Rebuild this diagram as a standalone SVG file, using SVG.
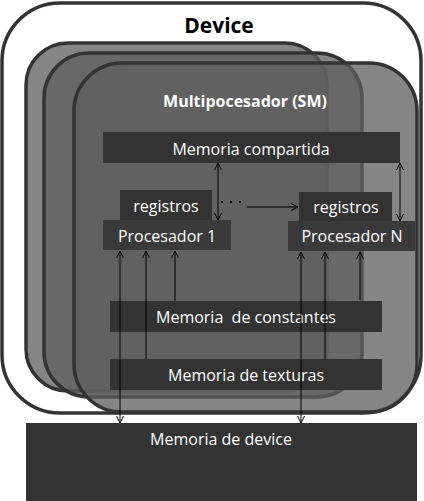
<svg xmlns="http://www.w3.org/2000/svg" width="424" height="501" viewBox="0 0 424 501">
<style>
.card{fill:rgba(95,95,95,0.76);stroke:#333;stroke-width:3.5}
.box{fill:#333}
.proc{fill:#3a3a3a}
.t{font-family:"Open Sans","Liberation Sans",sans-serif;fill:#fff;text-anchor:middle;font-size:16px}
.conn line,.conn path{stroke:#000;stroke-width:1;fill:none}
</style>
<defs>
<marker id="ah" markerUnits="userSpaceOnUse" viewBox="0 0 8 8" markerWidth="8" markerHeight="8" refX="7.5" refY="4" orient="auto-start-reverse">
<path d="M0.5,0.5 L7.5,4 L0.5,7.5" fill="none" stroke="#000" stroke-width="1"/>
</marker>
</defs>
<g id="device">
<rect x="2" y="3" width="419" height="410" rx="58" ry="58" fill="#fff" stroke="#333" stroke-width="3.5"/>
<text x="219" y="33" font-family="'Open Sans','Liberation Sans',sans-serif" font-weight="bold" font-size="21" text-anchor="middle" fill="#000">Device</text>
</g>
<g id="sm-back1"><rect class="card" x="26" y="43" width="301" height="348" rx="42"/></g>
<g id="sm-back2"><rect class="card" x="44" y="53" width="318" height="344" rx="45"/></g>
<g id="sm-front">
<rect class="card" x="74" y="63" width="343" height="349" rx="48"/>
<text class="t" x="245" y="107" font-weight="bold" font-size="16">Multipocesador (SM)</text>
</g>
<g id="mem-compartida">
<rect class="box" x="103" y="132" width="297" height="31"/>
<text class="t" x="251" y="155">Memoria compartida</text>
</g>
<g id="registros-1">
<rect class="box" x="120" y="190" width="92" height="31"/>
<text class="t" x="166" y="212">registros</text>
</g>
<g id="procesador-1">
<rect class="proc" x="103" y="220" width="128" height="30"/>
<text class="t" x="167" y="242">Procesador 1</text>
</g>
<g id="registros-n">
<rect class="box" x="299" y="192" width="93" height="30"/>
<text class="t" x="346" y="213">registros</text>
</g>
<g id="procesador-n">
<rect class="proc" x="288" y="221" width="127" height="30"/>
<text class="t" x="352" y="242">Procesador N</text>
</g>
<g id="mem-constantes">
<rect class="box" x="110" y="301" width="272" height="31"/>
<text class="t" x="246" y="323" style="white-space:pre" xml:space="preserve">Memoria  de constantes</text>
</g>
<g id="mem-texturas">
<rect class="box" x="110" y="359" width="272" height="31"/>
<text class="t" x="246" y="381">Memoria de texturas</text>
</g>
<g id="mem-device">
<rect class="box" x="26" y="423" width="391" height="78"/>
<text class="t" x="221" y="445">Memoria de device</text>
</g>
<g id="connectors" class="conn">
<line x1="218" y1="163" x2="218" y2="220" marker-start="url(#ah)" marker-end="url(#ah)"/>
<line x1="400" y1="163" x2="400" y2="221" marker-start="url(#ah)" marker-end="url(#ah)"/>
<path d="M221,202 L244,202" stroke-dasharray="2 7" style="stroke-width:2"/>
<line x1="247" y1="207" x2="298" y2="207" marker-end="url(#ah)"/>
<line x1="120" y1="251" x2="120" y2="423" marker-start="url(#ah)" marker-end="url(#ah)"/>
<line x1="146" y1="359" x2="146" y2="251" marker-end="url(#ah)"/>
<line x1="175" y1="301" x2="175" y2="251" marker-end="url(#ah)"/>
<line x1="301" y1="252" x2="301" y2="423" marker-start="url(#ah)" marker-end="url(#ah)"/>
<line x1="325" y1="360" x2="325" y2="252" marker-end="url(#ah)"/>
<line x1="360" y1="300" x2="360" y2="252" marker-end="url(#ah)"/>
</g>
</svg>
